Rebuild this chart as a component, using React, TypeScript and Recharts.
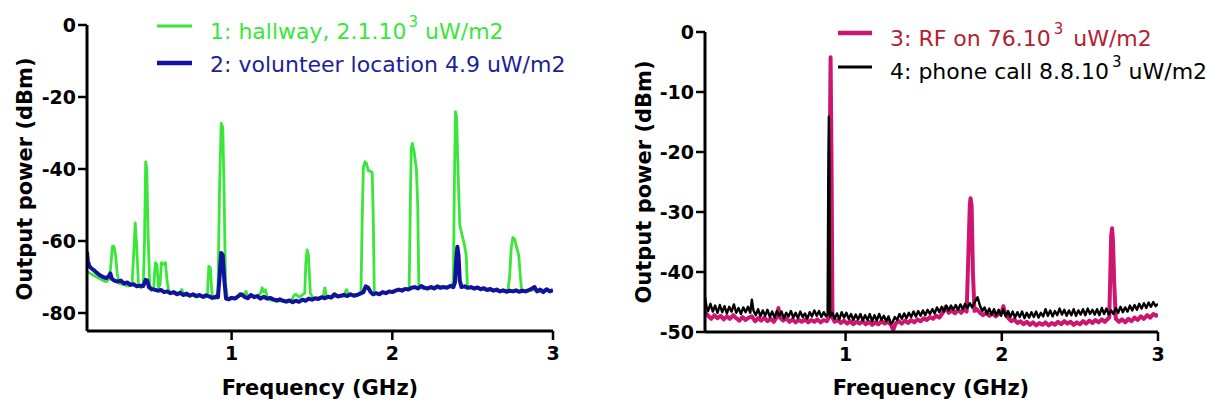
import React from 'react';
import { LineChart, Line, XAxis, YAxis } from 'recharts';

// ---- Left panel: ambient spectra (frequency GHz, power dBm) ----
const hallway: [number, number][] = [
  [0.10,-68.5],[0.12,-69],[0.14,-69.5],[0.16,-70],[0.18,-70.5],[0.20,-71],[0.22,-71.3],[0.24,-70.5],[0.25,-66],[0.258,-61.5],[0.268,-61.5],[0.278,-64],[0.288,-69],[0.30,-71.8],[0.32,-72],[0.34,-72.3],[0.36,-72.5],[0.38,-72.2],[0.39,-64],[0.40,-55],[0.41,-62],[0.42,-72],[0.435,-73],[0.45,-72.5],[0.458,-60],[0.465,-38],[0.472,-40],[0.48,-58],[0.49,-72],[0.50,-73.8],[0.515,-73],[0.525,-66],[0.535,-66.5],[0.545,-73],[0.555,-72],[0.563,-66],[0.575,-66.5],[0.588,-66],[0.598,-71],[0.61,-74.2],[0.63,-74.5],[0.65,-74.2],[0.67,-74.8],[0.69,-73.5],[0.70,-74.6],[0.72,-75.2],[0.75,-75],[0.78,-75.6],[0.81,-75.2],[0.83,-75.8],[0.85,-74.5],[0.858,-67],[0.868,-67.5],[0.878,-75],[0.90,-76],[0.915,-74],[0.925,-45],[0.935,-27.3],[0.945,-28.5],[0.953,-46],[0.962,-72],[0.975,-76.2],[1.00,-75.6],[1.03,-76],[1.05,-74.6],[1.07,-75.3],[1.09,-74],[1.10,-75.8],[1.13,-75.2],[1.16,-75.4],[1.18,-74.5],[1.19,-73],[1.20,-74.2],[1.21,-73.5],[1.225,-76.2],[1.25,-76.4],[1.28,-76.8],[1.31,-76.6],[1.34,-77],[1.37,-76.8],[1.39,-75],[1.40,-74.8],[1.42,-75.6],[1.44,-75],[1.455,-74.5],[1.462,-66],[1.47,-62.5],[1.478,-64],[1.49,-74.5],[1.51,-76.2],[1.54,-75.8],[1.57,-75.5],[1.58,-73],[1.59,-75.4],[1.62,-75.8],[1.65,-75.2],[1.68,-75.4],[1.70,-74.8],[1.715,-73.5],[1.73,-75.2],[1.76,-74.8],[1.79,-75],[1.805,-74.5],[1.812,-55],[1.82,-39.5],[1.83,-38],[1.84,-38.5],[1.85,-40.5],[1.86,-40.5],[1.875,-41],[1.882,-55],[1.888,-74.2],[1.91,-74.8],[1.94,-74.5],[1.97,-74.2],[2.00,-74],[2.03,-73.6],[2.06,-73.4],[2.09,-73.3],[2.105,-73],[2.112,-50],[2.118,-34],[2.125,-32.9],[2.135,-35],[2.15,-40],[2.158,-50],[2.165,-72.5],[2.19,-73.2],[2.22,-73],[2.25,-72.7],[2.28,-73],[2.31,-72.5],[2.34,-72.8],[2.37,-72.3],[2.38,-71],[2.386,-45],[2.393,-24.1],[2.40,-25.5],[2.41,-42],[2.42,-55.6],[2.435,-58.5],[2.45,-61.3],[2.46,-64],[2.467,-72.5],[2.48,-73],[2.51,-73.4],[2.54,-73],[2.57,-73.5],[2.60,-73.8],[2.63,-73.6],[2.66,-74],[2.69,-73.8],[2.72,-73.6],[2.73,-70],[2.74,-62],[2.75,-59],[2.762,-59.5],[2.775,-62],[2.787,-64],[2.797,-70],[2.805,-73.8],[2.83,-74],[2.86,-73.8],[2.89,-73.5],[2.92,-74],[2.95,-73.6],[2.98,-73.8],[3.00,-74],
];

const volunteer: [number, number][] = [
  [0.10,-63],[0.105,-65.5],[0.115,-67],[0.125,-67.5],[0.14,-68],[0.16,-68.8],[0.18,-69.5],[0.20,-70],[0.22,-70.3],[0.235,-69.8],[0.245,-69],[0.255,-70.5],[0.27,-71],[0.29,-71.3],[0.31,-71],[0.33,-71.8],[0.35,-71.5],[0.37,-72.2],[0.39,-72],[0.41,-72.6],[0.43,-72.4],[0.45,-72.5],[0.465,-70.8],[0.475,-71],[0.485,-72.8],[0.50,-73.3],[0.52,-73.5],[0.54,-73.8],[0.56,-73.6],[0.58,-74.2],[0.60,-74],[0.62,-74.5],[0.64,-74.2],[0.66,-74.8],[0.68,-74.4],[0.70,-75],[0.72,-74.6],[0.74,-75.2],[0.76,-74.8],[0.78,-75.3],[0.80,-75],[0.82,-75.5],[0.84,-75.1],[0.86,-75.4],[0.88,-75.8],[0.90,-75.5],[0.915,-75.6],[0.925,-70],[0.935,-63.3],[0.945,-64],[0.955,-71],[0.965,-76],[0.98,-76.2],[1.00,-75.8],[1.02,-76],[1.04,-75.4],[1.06,-74.8],[1.08,-75.5],[1.10,-75.9],[1.12,-75],[1.14,-75.6],[1.16,-75.3],[1.18,-76],[1.20,-75.5],[1.22,-76],[1.24,-75.8],[1.26,-76.2],[1.28,-76.5],[1.30,-76.2],[1.32,-76.6],[1.34,-76.8],[1.36,-76.5],[1.38,-77],[1.40,-76.6],[1.42,-76.9],[1.44,-76.3],[1.46,-76.6],[1.48,-76],[1.50,-76.3],[1.52,-75.9],[1.54,-76.1],[1.56,-75.6],[1.58,-75.9],[1.60,-75.5],[1.62,-75.7],[1.64,-74.8],[1.66,-75.4],[1.68,-75.2],[1.70,-75],[1.72,-75.3],[1.74,-74.8],[1.76,-75.2],[1.78,-75],[1.80,-74.6],[1.82,-74.2],[1.835,-72.6],[1.85,-73],[1.865,-74.2],[1.88,-74.8],[1.90,-74.5],[1.92,-74.8],[1.94,-74.2],[1.96,-74.5],[1.98,-74],[2.00,-74.2],[2.02,-73.8],[2.04,-73.5],[2.06,-73.8],[2.08,-73.3],[2.10,-73.5],[2.12,-73],[2.14,-72.8],[2.16,-73.2],[2.18,-72.5],[2.20,-73],[2.22,-73.2],[2.24,-72.8],[2.26,-73.2],[2.28,-72.6],[2.30,-73],[2.32,-72.8],[2.34,-73],[2.36,-72.5],[2.38,-72.8],[2.39,-71.5],[2.398,-65],[2.405,-61.6],[2.412,-64],[2.42,-71],[2.43,-72.8],[2.45,-72.6],[2.47,-73],[2.49,-72.8],[2.51,-73.2],[2.53,-72.9],[2.55,-73.4],[2.57,-73.1],[2.59,-73.6],[2.61,-73.3],[2.63,-73.8],[2.65,-73.5],[2.67,-74],[2.69,-73.7],[2.71,-74.1],[2.73,-73.8],[2.75,-74],[2.77,-73.7],[2.79,-74.1],[2.81,-73.8],[2.83,-74],[2.85,-73.6],[2.87,-73.2],[2.885,-72.8],[2.90,-74],[2.92,-73.5],[2.94,-74.2],[2.96,-73.4],[2.98,-74],[3.00,-73.6],
];

// ---- Right panel ----
const rfOn: [number, number][] = [
  [0.10,-46.6],[0.12,-47.3],[0.14,-47.8],[0.16,-47.2],[0.18,-47.7],[0.20,-47.3],[0.22,-47.9],[0.24,-47.4],[0.26,-47.8],[0.28,-47.2],[0.30,-47.7],[0.32,-48.1],[0.34,-47.5],[0.36,-48],[0.38,-47.6],[0.40,-47.4],[0.42,-48.2],[0.44,-47.7],[0.46,-48.1],[0.48,-47.6],[0.50,-48.2],[0.52,-47.8],[0.54,-48.3],[0.56,-47.5],[0.57,-46],[0.58,-47.6],[0.60,-48.1],[0.62,-47.7],[0.64,-48.3],[0.66,-47.9],[0.68,-48.4],[0.70,-48],[0.72,-48.3],[0.74,-47.9],[0.76,-48.4],[0.78,-48],[0.80,-48.3],[0.82,-47.9],[0.84,-48.4],[0.86,-48],[0.88,-48.2],[0.893,-47.6],[0.898,-22],[0.904,-4.2],[0.91,-22],[0.916,-47.6],[0.93,-48.3],[0.95,-48],[0.97,-48.5],[0.99,-48.1],[1.01,-48.6],[1.03,-48.2],[1.05,-48.7],[1.07,-48.3],[1.09,-48.6],[1.11,-48.2],[1.13,-48.7],[1.15,-48.3],[1.17,-48.8],[1.19,-48.4],[1.21,-48.7],[1.23,-48.2],[1.25,-48.6],[1.27,-48.3],[1.29,-48.8],[1.305,-49.7],[1.32,-48.6],[1.34,-48.2],[1.36,-48.6],[1.38,-48.1],[1.40,-48.5],[1.42,-48],[1.44,-48.4],[1.46,-47.9],[1.48,-48.2],[1.50,-47.7],[1.52,-48],[1.54,-47.5],[1.56,-47.8],[1.58,-47.3],[1.60,-47.6],[1.62,-46.9],[1.64,-45.8],[1.66,-46.8],[1.68,-46.4],[1.70,-46.9],[1.72,-46.3],[1.74,-46.8],[1.76,-46.2],[1.775,-46.6],[1.785,-38],[1.795,-29],[1.80,-27.7],[1.807,-29],[1.815,-40],[1.825,-46.5],[1.84,-46.2],[1.86,-46.8],[1.88,-47.2],[1.90,-46.8],[1.92,-47.3],[1.94,-46.9],[1.96,-47.4],[1.98,-47],[2.00,-46.6],[2.01,-45.7],[2.02,-46.8],[2.04,-47.6],[2.06,-48.2],[2.08,-47.9],[2.10,-48.5],[2.12,-48.2],[2.14,-48.7],[2.16,-48.3],[2.18,-48.8],[2.20,-48.4],[2.22,-48.9],[2.24,-48.5],[2.26,-48.8],[2.28,-48.4],[2.30,-48.9],[2.32,-48.5],[2.34,-48.8],[2.36,-48.3],[2.38,-48.7],[2.40,-48.2],[2.42,-48.6],[2.44,-48.3],[2.46,-48.8],[2.48,-48.4],[2.50,-48.7],[2.52,-48.2],[2.54,-48.6],[2.56,-48.1],[2.58,-48.5],[2.60,-48],[2.62,-48.4],[2.64,-47.9],[2.66,-48.3],[2.68,-47.8],[2.688,-47.6],[2.695,-40],[2.70,-34],[2.706,-32.7],[2.712,-35],[2.72,-42],[2.73,-47.8],[2.75,-48.3],[2.77,-47.9],[2.79,-48.4],[2.81,-47.8],[2.83,-48.2],[2.85,-47.6],[2.87,-48],[2.89,-47.4],[2.91,-47.8],[2.93,-47.2],[2.95,-47.6],[2.97,-47],[2.99,-47.3],[3.00,-47],
];

const phoneCall: [number, number][] = [
  [0.10,-44.2],[0.11,-45.8],[0.12,-46.5],[0.135,-45.3],[0.15,-46.6],[0.165,-45.6],[0.18,-46.8],[0.195,-45.5],[0.21,-46.7],[0.225,-45.7],[0.24,-46.9],[0.255,-45.8],[0.27,-46.6],[0.285,-45.4],[0.30,-46.8],[0.315,-46],[0.33,-47],[0.345,-45.9],[0.36,-46.7],[0.375,-45.8],[0.39,-46.8],[0.40,-44.6],[0.41,-46.4],[0.425,-47.2],[0.44,-46.2],[0.455,-47.4],[0.47,-46.4],[0.485,-47.3],[0.50,-46.3],[0.515,-47.5],[0.53,-46.6],[0.545,-47.6],[0.56,-46.5],[0.575,-47.3],[0.59,-46.6],[0.605,-47.7],[0.62,-46.8],[0.635,-47.4],[0.65,-46.5],[0.665,-47.6],[0.68,-46.8],[0.695,-47.7],[0.71,-46.6],[0.725,-47.5],[0.74,-46.9],[0.755,-47.8],[0.77,-46.7],[0.785,-47.4],[0.80,-46.4],[0.815,-47.3],[0.83,-46.5],[0.845,-47.5],[0.86,-46.7],[0.875,-47.4],[0.885,-47],[0.889,-25],[0.893,-14.1],[0.897,-25],[0.901,-47.4],[0.915,-46.8],[0.93,-47.8],[0.945,-46.9],[0.96,-47.9],[0.975,-46.7],[0.99,-47.6],[1.005,-46.8],[1.02,-47.8],[1.035,-47],[1.05,-48],[1.065,-47.1],[1.08,-47.9],[1.095,-47],[1.11,-48.1],[1.125,-47.2],[1.14,-48],[1.155,-47],[1.17,-48.2],[1.185,-47.2],[1.20,-48.1],[1.215,-47],[1.23,-48],[1.245,-47.3],[1.26,-48.2],[1.275,-47.4],[1.29,-48.6],[1.30,-48.4],[1.315,-47.5],[1.33,-48],[1.345,-47],[1.36,-47.8],[1.375,-46.9],[1.39,-47.7],[1.405,-46.8],[1.42,-47.5],[1.435,-46.6],[1.45,-47.4],[1.465,-46.5],[1.48,-47.3],[1.495,-46.4],[1.51,-47.2],[1.525,-46.3],[1.54,-47],[1.555,-46.2],[1.57,-46.9],[1.585,-45.9],[1.60,-46.7],[1.615,-45.8],[1.63,-46.6],[1.645,-45.6],[1.66,-46.4],[1.675,-45.6],[1.69,-46.3],[1.705,-45.5],[1.72,-46.3],[1.735,-45.4],[1.75,-46.2],[1.765,-45.3],[1.78,-46],[1.795,-45.2],[1.81,-45.9],[1.825,-45.1],[1.845,-44.2],[1.86,-45.6],[1.875,-46.5],[1.89,-45.9],[1.905,-47],[1.92,-46.1],[1.935,-47.1],[1.95,-46.2],[1.965,-47.2],[1.98,-46.3],[1.995,-47.3],[2.01,-46.2],[2.025,-47.4],[2.04,-46.5],[2.055,-47.5],[2.07,-46.6],[2.085,-47.6],[2.10,-46.7],[2.115,-47.5],[2.13,-46.6],[2.145,-47.7],[2.16,-46.8],[2.175,-47.6],[2.19,-46.7],[2.205,-47.5],[2.22,-46.6],[2.235,-47.6],[2.25,-46.8],[2.265,-47.4],[2.28,-46.2],[2.295,-47.3],[2.31,-46.4],[2.325,-47.4],[2.34,-46.5],[2.355,-47.2],[2.37,-46.1],[2.385,-47.1],[2.40,-46.3],[2.415,-47.3],[2.43,-46.4],[2.445,-47.2],[2.46,-46.2],[2.475,-47.3],[2.49,-46.4],[2.505,-47.1],[2.52,-46.2],[2.535,-47.2],[2.55,-46.1],[2.565,-47],[2.58,-46.3],[2.595,-47.1],[2.61,-46.2],[2.625,-47.2],[2.64,-46],[2.655,-47],[2.67,-46.1],[2.685,-47.1],[2.70,-46.4],[2.715,-47],[2.73,-46],[2.745,-46.8],[2.76,-45.8],[2.775,-46.7],[2.79,-45.9],[2.805,-46.6],[2.82,-45.6],[2.835,-46.4],[2.85,-45.5],[2.865,-46.3],[2.88,-45.3],[2.895,-46.1],[2.91,-45.2],[2.925,-46],[2.94,-45.1],[2.955,-45.8],[2.97,-45],[2.985,-45.7],[3.00,-45.3],
];

const xTicks = [1, 2, 3];
const leftYTicks = [0, -20, -40, -60, -80];
const rightYTicks = [0, -10, -20, -30, -40, -50];

const GREEN = '#3ae63a';
const BLUE = '#12129e';
const BLUE_TEXT = '#1e1e98';
const PINK = '#cc1670';
const RED_TEXT = '#b2222e';
const FONT = "'DejaVu Sans', 'Liberation Sans', sans-serif";

const toPts = (a: [number, number][]) => a.map(([f, v]) => ({ f, v }));

const tickStyle = { fill: '#000', fontSize: 19, fontWeight: 'bold', fontFamily: FONT };
const axisLine = { stroke: '#000', strokeWidth: 3 };
const tickLine = { stroke: '#000', strokeWidth: 2.5 };

function AxisTitles({ yx, yy, xx }: { yx: number; yy: number; xx: number }) {
  return (
    <g>
      <text
        x={yx}
        y={yy}
        transform={`rotate(-90, ${yx}, ${yy})`}
        textAnchor="middle"
        fontFamily={FONT}
        fontWeight="bold"
        fontSize={21}
        fill="#000"
      >
        Output power (dBm)
      </text>
      <text x={xx} y={395} textAnchor="middle" fontFamily={FONT} fontWeight="bold" fontSize={21} fill="#000">
        Frequency (GHz)
      </text>
    </g>
  );
}

export default function App() {
  return (
    <div style={{ position: 'absolute', left: 0, top: 0, width: 1206, height: 402, background: '#fff' }}>
      <div style={{ position: 'absolute', left: 0, top: 0 }}>
        <LineChart width={600} height={402} margin={{ top: 25, right: 47, bottom: 11, left: 30 }}>
          <XAxis
            type="number"
            dataKey="f"
            domain={[0.1, 3]}
            ticks={xTicks}
            allowDataOverflow
            height={60}
            tickSize={9}
            tickMargin={7}
            axisLine={axisLine}
            tickLine={tickLine}
            tick={tickStyle}
          />
          <YAxis
            type="number"
            dataKey="v"
            domain={[-85, 0]}
            ticks={leftYTicks}
            allowDataOverflow
            width={57}
            tickSize={9}
            tickMargin={2}
            axisLine={axisLine}
            tickLine={tickLine}
            tick={tickStyle}
          />
          <Line data={toPts(hallway)} dataKey="v" type="linear" stroke={GREEN} strokeWidth={2.8} dot={false} isAnimationActive={false} strokeLinejoin="round" />
          <Line data={toPts(volunteer)} dataKey="v" type="linear" stroke={BLUE} strokeWidth={4} dot={false} isAnimationActive={false} strokeLinejoin="round" />
          <AxisTitles yx={32} yy={179} xx={320} />
          <g>
            <line x1={157} x2={192} y1={26} y2={26} stroke={GREEN} strokeWidth={3} />
            <text x={210} y={39} fill={GREEN} fontSize={22} fontFamily={FONT}>
              1: hallway, 2.1.10<tspan dx={2} dy={-12} fontSize={15}>3</tspan><tspan dy={12}> uW/m2</tspan>
            </text>
            <line x1={157} x2={192} y1={63} y2={63} stroke={BLUE} strokeWidth={4.5} />
            <text x={210} y={72} fill={BLUE_TEXT} fontSize={22} fontFamily={FONT}>
              2: volunteer location 4.9 uW/m2
            </text>
          </g>
        </LineChart>
      </div>
      <div style={{ position: 'absolute', left: 600, top: 0 }}>
        <LineChart width={606} height={402} margin={{ top: 32, right: 48, bottom: 10, left: 48 }}>
          <XAxis
            type="number"
            dataKey="f"
            domain={[0.1, 3]}
            ticks={xTicks}
            allowDataOverflow
            height={60}
            tickSize={9}
            tickMargin={7}
            axisLine={axisLine}
            tickLine={tickLine}
            tick={tickStyle}
          />
          <YAxis
            type="number"
            dataKey="v"
            domain={[-50, 0]}
            ticks={rightYTicks}
            allowDataOverflow
            width={57}
            tickSize={9}
            tickMargin={2}
            axisLine={axisLine}
            tickLine={tickLine}
            tick={tickStyle}
          />
          <Line data={toPts(rfOn)} dataKey="v" type="linear" stroke={PINK} strokeWidth={4} dot={false} isAnimationActive={false} strokeLinejoin="round" />
          <Line data={toPts(phoneCall)} dataKey="v" type="linear" stroke="#000" strokeWidth={2.4} dot={false} isAnimationActive={false} strokeLinejoin="round" />
          <AxisTitles yx={51} yy={182} xx={331} />
          <g>
            <line x1={238} x2={272} y1={33} y2={33} stroke={PINK} strokeWidth={4.5} />
            <text x={290} y={46} fill={RED_TEXT} fontSize={22} fontFamily={FONT}>
              3: RF on 76.10<tspan dx={3} dy={-12} fontSize={15}>3</tspan><tspan dx={3} dy={12}> uW/m2</tspan>
            </text>
            <line x1={238} x2={272} y1={67} y2={67} stroke="#000" strokeWidth={3} />
            <text x={290} y={79} fill="#000" fontSize={22} fontFamily={FONT}>
              4: phone call 8.8.10<tspan dx={3} dy={-12} fontSize={15}>3</tspan><tspan dy={12}> uW/m2</tspan>
            </text>
          </g>
        </LineChart>
      </div>
    </div>
  );
}
